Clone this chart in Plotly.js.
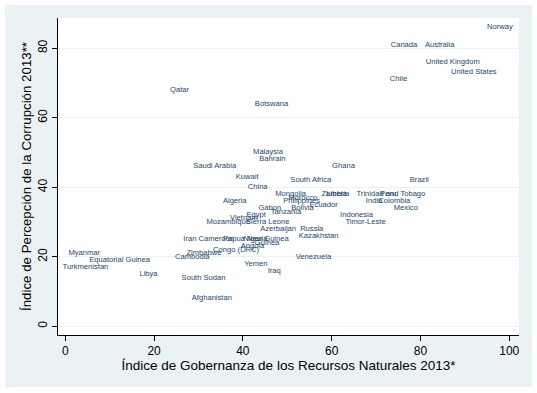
<!DOCTYPE html>
<html>
<head>
<meta charset="utf-8">
<script src="https://cdn.plot.ly/plotly-3.0.1.min.js"></script>
<style>
html,body{margin:0;padding:0;background:#ffffff;width:537px;height:393px;overflow:hidden;}
#chart{position:absolute;left:5px;top:5px;width:527px;height:382px;}
</style>
</head>
<body>
<div id="chart"></div>
<script>
const countries = [
  "Norway","Canada","Australia","United Kingdom","United States","Chile","Botswana","Qatar",
  "Malaysia","Bahrain","Saudi Arabia","Ghana","Kuwait","South Africa","China","Brazil",
  "Mongolia","Morocco","Philippines","Zambia","Liberia","Trinidad and Tobago","Peru","India",
  "Colombia","Mexico","Algeria","Ecuador","Bolivia","Gabon","Tanzania","Egypt",
  "Indonesia","Timor-Leste","Vietnam","Mozambique","Sierra Leone","Azerbaijan","Russia","Kazakhstan",
  "Iran","Cameroon","Papua New Guinea","Nigeria","Guinea","Angola","Congo (DRC)","Zimbabwe",
  "Cambodia","Myanmar","Equatorial Guinea","Turkmenistan","Libya","South Sudan","Afghanistan","Yemen",
  "Iraq","Venezuela"
];
const rgi = [
  95.0,73.3,81.0,81.2,86.9,73.1,42.7,23.6,
  42.3,43.7,28.8,60.1,38.4,50.7,41.1,77.6,
  47.3,50.2,49.1,57.7,58.8,65.6,70.9,67.7,
  70.5,74.0,35.5,55.0,50.9,43.5,46.3,40.8,
  61.9,63.1,37.1,31.8,40.7,43.9,52.9,52.6,
  26.6,30.0,35.5,40.1,42.7,39.5,33.3,27.3,
  24.7,0.7,5.4,-0.6,16.7,26.2,28.5,40.3,
  45.6,51.9
];
const cpi = [
  86,81,81,76,73,71,64,68,
  50,48,46,46,43,42,40,42,
  38,37,36,38,38,38,38,36,
  36,34,36,35,34,34,33,32,
  32,30,31,30,30,28,28,26,
  25,25,25,25,24,23,22,21,
  20,21,19,17,15,14,8,18,
  16,20
];
const xTicks = [0,20,40,60,80,100];
const yTicks = [0,20,40,60,80];
const xTitle = "Índice de Gobernanza de los Recursos Naturales 2013*";
const yTitle = "Índice de Percepción de la Corrupción 2013**";

const FONT = "Arial, 'Liberation Sans', sans-serif";

const trace = {
  type: "scatter",
  mode: "text",
  x: rgi,
  y: cpi,
  text: countries,
  textposition: "middle right",
  textfont: {family: FONT, size: 7.6, color: "#1a476f"},
  hoverinfo: "text",
  showlegend: false
};

const layout = {
  width: 527,
  height: 382,
  paper_bgcolor: "#eaf2f3",
  plot_bgcolor: "#ffffff",
  margin: {l: 53, r: 13, t: 13, b: 52, pad: 0},
  font: {family: FONT, color: "#000000"},
  xaxis: {
    range: [-1.64, 102.2],
    tickmode: "array",
    tickvals: xTicks,
    ticktext: xTicks.map(String),
    ticks: "outside",
    ticklen: 5,
    tickwidth: 1,
    tickcolor: "#000000",
    tickfont: {family: FONT, size: 12, color: "#000000"},
    showgrid: false,
    zeroline: false,
    showline: true,
    linecolor: "#000000",
    linewidth: 1,
    title: {text: xTitle, font: {family: FONT, size: 13.5, color: "#000000"}, standoff: 0}
  },
  yaxis: {
    range: [-2.5, 88.7],
    tickmode: "array",
    tickvals: yTicks,
    ticktext: yTicks.map(String),
    tickangle: -90,
    ticks: "outside",
    ticklen: 5,
    tickwidth: 1,
    tickcolor: "#000000",
    tickfont: {family: FONT, size: 12, color: "#000000"},
    showgrid: true,
    gridcolor: "#eaf2f3",
    gridwidth: 1,
    zeroline: false,
    showline: true,
    linecolor: "#000000",
    linewidth: 1,
    title: {text: yTitle, font: {family: FONT, size: 13.3, color: "#000000"}, standoff: 1}
  }
};

Plotly.newPlot("chart", [trace], layout, {displayModeBar: false, staticPlot: true});
</script>
</body>
</html>
